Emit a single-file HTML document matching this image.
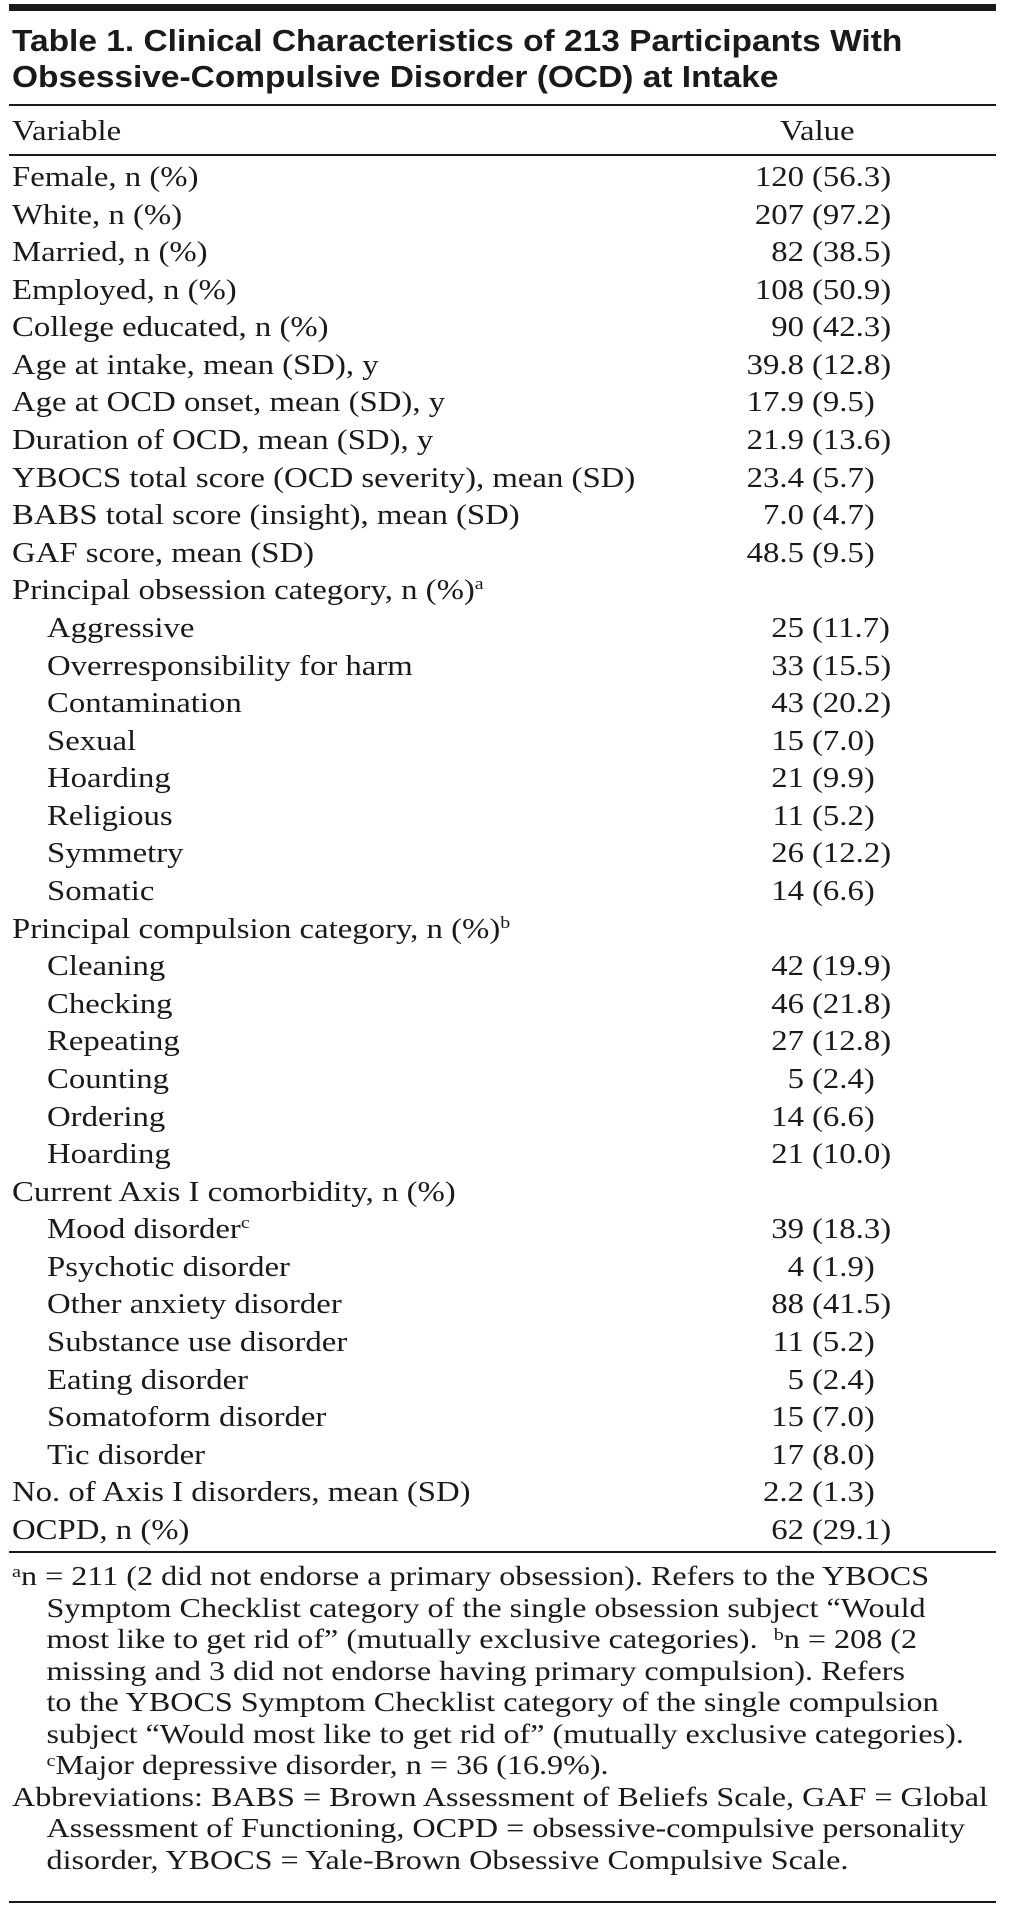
<!DOCTYPE html>
<html><head><meta charset="utf-8"><style>
body{margin:0;width:1009px;height:1926px;background:#fff;position:relative;overflow:hidden;font-family:"Liberation Serif",serif;color:#1a1a1a}
.bar{position:absolute;left:9px;width:987px;background:#1a1a1a}
.t{position:absolute;left:12px;font-family:"Liberation Sans",sans-serif;font-weight:bold;font-size:31px;line-height:36px;white-space:nowrap;transform:scaleX(1.08);transform-origin:left}
.r{position:absolute;left:12px;width:984px;height:36px;line-height:36px;font-size:28px;white-space:nowrap}
.s{position:absolute;display:inline-block;transform:scaleX(1.17);transform-origin:left}
.sr{position:absolute;display:inline-block;transform:scaleX(1.17);transform-origin:right;text-align:right}
sup{font-size:17px;vertical-align:top;line-height:22px}
.f{position:absolute;left:12px;font-size:27px;line-height:31.5px;white-space:nowrap;transform:scaleX(1.19);transform-origin:left}
.f div{padding-left:29px}
.f div.first{padding-left:0}
</style></head><body>
<div class="bar" style="top:4px;height:7px"></div>
<div class="t" style="top:23px">Table 1. Clinical Characteristics of 213 Participants With</div>
<div class="t" style="top:59px">Obsessive-Compulsive Disorder (OCD) at Intake</div>
<div class="bar" style="top:104px;height:2px"></div>
<div class="r" style="top:114px"><span class="s" style="left:0">Variable</span><span class="s" style="left:768px">Value</span></div>
<div class="bar" style="top:154px;height:2px"></div>
<div id="rows"></div>
<div class="bar" style="top:1551px;height:2px"></div>
<div class="f" style="top:1561px">
<div class="first"><sup>a</sup>n = 211 (2 did not endorse a primary obsession). Refers to the YBOCS</div>
<div>Symptom Checklist category of the single obsession subject “Would</div>
<div>most like to get rid of” (mutually exclusive categories). &nbsp;<sup>b</sup>n = 208 (2</div>
<div>missing and 3 did not endorse having primary compulsion). Refers</div>
<div>to the YBOCS Symptom Checklist category of the single compulsion</div>
<div>subject “Would most like to get rid of” (mutually exclusive categories).</div>
<div><sup>c</sup>Major depressive disorder, n = 36 (16.9%).</div>
<div class="first">Abbreviations: BABS = Brown Assessment of Beliefs Scale, GAF = Global</div>
<div>Assessment of Functioning, OCPD = obsessive-compulsive personality</div>
<div>disorder, YBOCS = Yale-Brown Obsessive Compulsive Scale.</div>
</div>
<div class="bar" style="top:1901px;height:2px"></div>
<script>
var rows=[
["Female, n (%)","120","(56.3)"],["White, n (%)","207","(97.2)"],["Married, n (%)","82","(38.5)"],["Employed, n (%)","108","(50.9)"],["College educated, n (%)","90","(42.3)"],
["Age at intake, mean (SD), y","39.8","(12.8)"],["Age at OCD onset, mean (SD), y","17.9","(9.5)"],["Duration of OCD, mean (SD), y","21.9","(13.6)"],
["YBOCS total score (OCD severity), mean (SD)","23.4","(5.7)"],["BABS total score (insight), mean (SD)","7.0","(4.7)"],["GAF score, mean (SD)","48.5","(9.5)"],
["Principal obsession category, n (%)<sup>a</sup>"],
["*Aggressive","25","(11.7)"],["*Overresponsibility for harm","33","(15.5)"],["*Contamination","43","(20.2)"],["*Sexual","15","(7.0)"],["*Hoarding","21","(9.9)"],["*Religious","11","(5.2)"],["*Symmetry","26","(12.2)"],["*Somatic","14","(6.6)"],
["Principal compulsion category, n (%)<sup>b</sup>"],
["*Cleaning","42","(19.9)"],["*Checking","46","(21.8)"],["*Repeating","27","(12.8)"],["*Counting","5","(2.4)"],["*Ordering","14","(6.6)"],["*Hoarding","21","(10.0)"],
["Current Axis I comorbidity, n (%)"],
["*Mood disorder<sup>c</sup>","39","(18.3)"],["*Psychotic disorder","4","(1.9)"],["*Other anxiety disorder","88","(41.5)"],["*Substance use disorder","11","(5.2)"],["*Eating disorder","5","(2.4)"],["*Somatoform disorder","15","(7.0)"],["*Tic disorder","17","(8.0)"],
["No. of Axis I disorders, mean (SD)","2.2","(1.3)"],["OCPD, n (%)","62","(29.1)"]];
var h="";
rows.forEach(function(r,i){
 var top=160+37.58*i, ind=r[0][0]=="*", lab=ind?r[0].slice(1):r[0];
 h+='<div class="r" style="top:'+top+'px"><span class="s" style="left:'+(ind?35:0)+'px">'+lab+'</span>';
 if(r[1]) h+='<span class="sr" style="left:694px;width:98px">'+r[1]+'</span><span class="s" style="left:800px">'+r[2]+'</span>';
 h+='</div>';
});
document.getElementById("rows").innerHTML=h;
</script>
</body></html>
